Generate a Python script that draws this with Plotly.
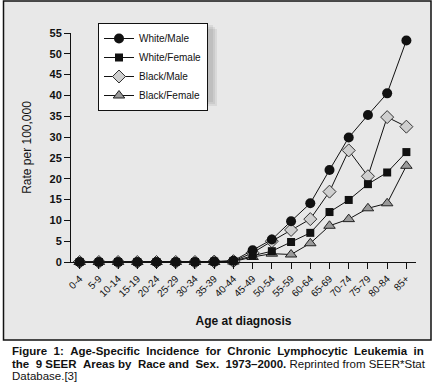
import plotly.graph_objects as go

ages = ["0-4", "5-9", "10-14", "15-19", "20-24", "25-29", "30-34", "35-39", "40-44",
        "45-49", "50-54", "55-59", "60-64", "65-69", "70-74", "75-79", "80-84", "85+"]
white_male = [0, 0, 0, 0, 0, 0, 0, 0.1, 0.3, 2.8, 5.4, 9.8, 14.1, 22.1, 29.9, 35.3, 40.5, 53.2]
white_female = [0, 0, 0, 0, 0, 0, 0, 0.1, 0.2, 1.5, 2.6, 4.8, 7.0, 12.0, 14.9, 18.7, 21.5, 26.4]
black_male = [0, 0, 0, 0, 0, 0, 0, 0.1, 0.2, 2.2, 5.0, 7.7, 10.3, 16.9, 26.8, 20.6, 34.8, 32.5]
black_female = [0, 0, 0, 0, 0, 0, 0, 0, 0.1, 1.2, 2.0, 1.8, 4.5, 8.7, 10.3, 12.9, 14.1, 23.1]
y_ticks = list(range(0, 56, 5))

FONT = "Liberation Sans, Arial, sans-serif"

fig = go.Figure()
series = [
    ("Black/Female", black_female, dict(symbol="triangle-up", size=10, color="#9a9a9a",
                                        line=dict(color="#222", width=1)), 4),
    ("Black/Male", black_male, dict(symbol="diamond", size=10, color="#cfcfcf",
                                    line=dict(color="#333", width=1)), 3),
    ("White/Female", white_female, dict(symbol="square", size=8, color="#111",
                                        line=dict(color="#111", width=0)), 2),
    ("White/Male", white_male, dict(symbol="circle", size=10, color="#111",
                                    line=dict(color="#111", width=0)), 1),
]
for name, vals, mk, rank in series:
    fig.add_trace(go.Scatter(x=ages, y=vals, name=name, mode="lines+markers",
                             line=dict(color="#111", width=1), marker=mk,
                             legendrank=rank, cliponaxis=False))

L, R, T, B = 71, 17, 33, 130
W, H = 433, 392
pw, ph = W - L - R, H - T - B

def px(x):
    return (x - L) / pw

def py(y):
    return (H - B - y) / ph

shapes = [
    dict(type="rect", xref="paper", yref="paper", x0=px(3.5), x1=px(431), y0=py(1), y1=py(340),
         fillcolor="#e8e8e8", line=dict(color="#111", width=1.5), layer="below"),
]
# soft shadow behind legend
for i, op in enumerate([0.10, 0.10, 0.10]):
    off = 2 + i * 2
    shapes.append(dict(type="rect", xref="paper", yref="paper",
                       x0=px(98 + off), x1=px(211 + off), y0=py(23 + off), y1=py(100 + off),
                       fillcolor="#555", opacity=op, line=dict(width=0), layer="above"))

S = " &nbsp;"
line1 = "Figure 1: Age-Specific Incidence for Chronic Lymphocytic Leukemia in".replace(" ", S)
line2a = ("the" + S + "9 SEER" + S + "Areas by" + S + "Race and" + S + "Sex." + S + "1973–2000.")
line2b = "Reprinted from SEER*Stat"
cap_font = dict(family=FONT, size=11.5, color="#111")
annotations = [
    dict(text="<b>" + line1 + "</b>",
         x=px(11), y=py(344), xref="paper", yref="paper", xanchor="left", yanchor="top",
         showarrow=False, font=cap_font, borderpad=0),
    dict(text="<b>" + line2a + "</b> " + line2b,
         x=px(11), y=py(356.5), xref="paper", yref="paper", xanchor="left", yanchor="top",
         showarrow=False, font=cap_font, borderpad=0),
    dict(text="Database.[3]",
         x=px(11), y=py(369), xref="paper", yref="paper", xanchor="left", yanchor="top",
         showarrow=False, font=cap_font, borderpad=0),
]

fig.update_layout(
    width=W, height=H,
    margin=dict(l=L, r=R, t=T, b=B, pad=0),
    paper_bgcolor="white", plot_bgcolor="white",
    font=dict(family=FONT, color="#111"),
    shapes=shapes, annotations=annotations,
    legend=dict(x=px(98), y=py(23), xanchor="left", yanchor="top",
                bgcolor="white", bordercolor="#111", borderwidth=1,
                font=dict(family=FONT, size=10, color="#111"),
                tracegroupgap=0, itemwidth=30),
    xaxis=dict(type="category", categoryorder="array", categoryarray=ages,
               range=[-0.45, 17.5], showgrid=False, zeroline=False,
               showline=True, linecolor="#111", linewidth=1,
               ticks="outside", ticklen=6, tickcolor="#111", tickangle=-45,
               tickfont=dict(family=FONT, size=10, color="#111"),
               title=dict(text="<b>Age at diagnosis</b>", standoff=18,
                          font=dict(family=FONT, size=12, color="#111"))),
    yaxis=dict(range=[0, 55], tickvals=y_ticks, showgrid=False, zeroline=False,
               showline=True, linecolor="#111", linewidth=1,
               ticks="outside", ticklen=6, tickcolor="#111",
               tickfont=dict(family=FONT, size=11, color="#111", weight="bold"),
               title=dict(text="Rate per 100,000", standoff=15,
                          font=dict(family=FONT, size=12, color="#111"))),
)

fig.write_html("out.html", config={"displayModeBar": False},
               post_script="document.body.style.margin='0';")
